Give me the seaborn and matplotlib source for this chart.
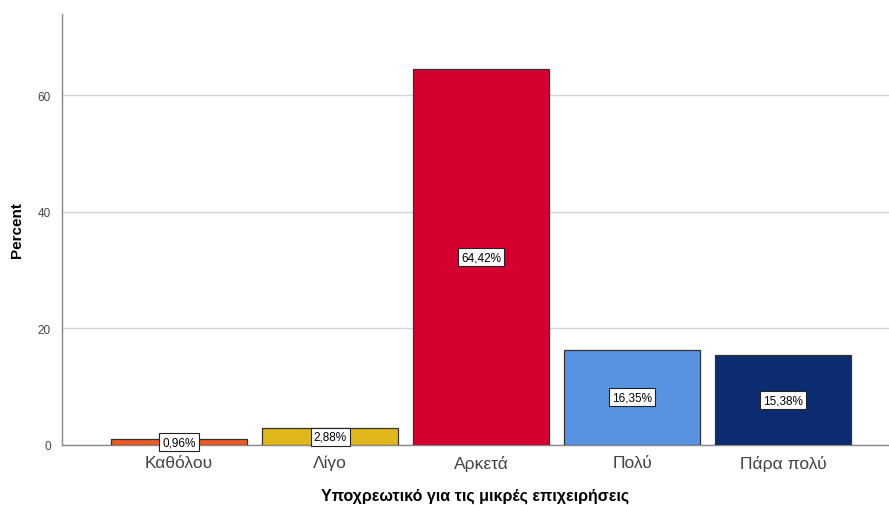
import matplotlib
matplotlib.use("Agg")
import matplotlib.pyplot as plt
import seaborn as sns
import pandas as pd

categories = ["Καθόλου", "Λίγο", "Αρκετά", "Πολύ", "Πάρα πολύ"]
percent = [0.96, 2.88, 64.42, 16.35, 15.38]
bar_colors = ["#EC5B26", "#E0B81C", "#D5002F", "#5893E2", "#0B2C70"]
y_ticks = [0, 20, 40, 60]

sns.set_theme(style="white")
plt.rcParams["font.family"] = ["Liberation Sans", "DejaVu Sans"]

df = pd.DataFrame({"category": categories, "percent": percent})

fig = plt.figure(figsize=(8.89, 5.06), dpi=100)
ax = fig.add_axes([62 / 889, 60 / 506, 1 - 62 / 889, (446 - 15) / 506])

sns.barplot(data=df, x="category", y="percent", hue="category",
            palette=bar_colors, saturation=1, width=0.9, edgecolor="#333333",
            linewidth=0.9, legend=False, ax=ax, zorder=3)

ax.set_xlim(-0.775, 4.70)
ax.set_ylim(0, 73.9)
ax.set_yticks(y_ticks)
ax.yaxis.grid(True, color="#d4d4d4", linewidth=1, zorder=0)
ax.set_axisbelow(True)

for i, v in enumerate(percent):
    ax.text(i, v / 2, f"{v:.2f}%".replace(".", ","), ha="center", va="center",
            fontsize=8.5, color="black", zorder=5,
            bbox=dict(boxstyle="square,pad=0.25", facecolor="white",
                      edgecolor="#222222", linewidth=0.8))

for s in ["top", "right"]:
    ax.spines[s].set_visible(False)
for s in ["left", "bottom"]:
    ax.spines[s].set_color("#888888")
    ax.spines[s].set_linewidth(1)

ax.tick_params(axis="y", labelsize=8.5, colors="#444444", length=0, pad=8)
ax.tick_params(axis="x", labelsize=12.5, colors="#444444", length=0, pad=7)

ax.set_ylabel("Percent", fontsize=11, fontweight="bold", color="black", labelpad=10)
ax.set_xlabel("Υποχρεωτικό για τις μικρές επιχειρήσεις", fontsize=11.5,
              fontweight="bold", color="black", labelpad=12)

fig.savefig("out.png", dpi=100)
